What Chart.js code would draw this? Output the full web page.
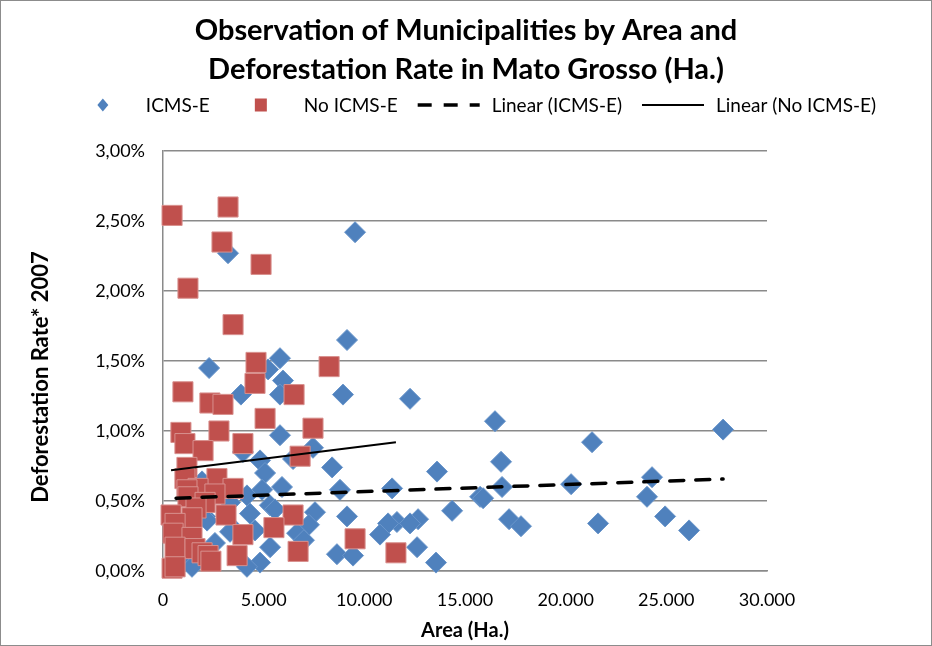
<!DOCTYPE html>
<html>
<head>
<meta charset="utf-8">
<script src="https://cdn.jsdelivr.net/npm/chart.js@4.4.1/dist/chart.umd.min.js"></script>
<style>
  html, body { margin: 0; padding: 0; background: #ffffff; }
  #wrap { width: 932px; height: 646px; }
</style>
</head>
<body>
<div id="wrap"><canvas id="chart" width="932" height="646"></canvas></div>
<script>
// Municipalities with ICMS-E: area (ha) and 2007 deforestation rate (%)
const icmsArea = [9540, 3230, 9140, 5810, 2290, 5220, 5960, 3870, 5810, 8940,
  12270, 16490, 27820, 5810, 21310, 7450, 3970, 4820, 6460, 16790,
  8400, 13610, 5070, 24290, 20270, 5910, 16840, 11380, 8790, 4920,
  4170, 15750, 24040, 15900, 3330, 5310, 5560, 14360, 7550, 4320,
  2090, 9140, 24940, 17190, 12670, 2190, 11620, 11180, 12270, 21610,
  7250, 17780, 3580, 4570, 26130, 3330, 6660, 10780, 7000, 2580,
  12620, 5320, 1000, 650, 8640, 9440, 650, 1340, 4820, 13560,
  4170, 1440, 1940];
const icmsRate = [2.42, 2.27, 1.65, 1.52, 1.45, 1.44, 1.36, 1.26, 1.26, 1.26,
  1.23, 1.07, 1.01, 0.97, 0.92, 0.88, 0.85, 0.79, 0.80, 0.78,
  0.74, 0.71, 0.70, 0.67, 0.62, 0.60, 0.60, 0.59, 0.58, 0.58,
  0.54, 0.53, 0.53, 0.52, 0.49, 0.47, 0.44, 0.43, 0.42, 0.41,
  0.39, 0.39, 0.39, 0.37, 0.37, 0.36, 0.35, 0.34, 0.34, 0.34,
  0.33, 0.32, 0.29, 0.29, 0.29, 0.28, 0.27, 0.26, 0.22, 0.20,
  0.17, 0.17, 0.19, 0.15, 0.12, 0.11, 0.10, 0.06, 0.06, 0.06,
  0.03, 0.03, 0.64];

// Municipalities without ICMS-E
const noIcmsArea = [450, 3230, 2930, 4870, 1240, 3480, 4620, 8250, 4570, 990,
  6510, 2330, 2980, 5070, 7450, 2780, 890, 3970, 1090, 1990,
  6810, 1190, 2680, 1090, 1740, 3480, 1190, 2580, 1240, 2090,
  1640, 400, 3130, 6460, 1440, 600, 5510, 500, 3970, 1440,
  9540, 600, 1590, 6710, 11570, 1940, 2240, 3680, 2380, 450,
  600];
const noIcmsRate = [2.54, 2.60, 2.35, 2.19, 2.02, 1.76, 1.49, 1.46, 1.34, 1.28,
  1.26, 1.20, 1.19, 1.09, 1.02, 1.00, 0.99, 0.91, 0.91, 0.86,
  0.82, 0.74, 0.66, 0.66, 0.59, 0.59, 0.58, 0.55, 0.53, 0.49,
  0.45, 0.40, 0.40, 0.40, 0.38, 0.34, 0.31, 0.27, 0.26, 0.24,
  0.23, 0.17, 0.16, 0.14, 0.13, 0.13, 0.11, 0.11, 0.07, 0.02,
  0.03];

// Linear trend coefficients [intercept %, slope % per ha]
const trendIcms = [0.5167, 0.00000504];
const trendNoIcms = [0.7129, 0.00001783];

const seriesLabels = ['ICMS-E', 'No ICMS-E', 'Linear (ICMS-E)', 'Linear (No ICMS-E)'];
const titleLines = ['Observation of Municipalities by Area and', 'Deforestation Rate in Mato Grosso (Ha.)'];
const xTicks = [0, 5000, 10000, 15000, 20000, 25000, 30000];
const yTicks = [0, 0.5, 1, 1.5, 2, 2.5, 3];

const FONT = 'Lato, "Open Sans", "DejaVu Sans", sans-serif';
const BLUE = '#4F81BD';
const RED = '#C0504D';
const GRID = '#8a8a8a';

const toPoints = (xs, ys) => xs.map((x, i) => ({ x: x, y: ys[i] }));
const trendPoints = (xs, coef) => {
  const lo = Math.min(...xs), hi = Math.max(...xs);
  return [lo, hi].map(x => ({ x: x, y: coef[0] + coef[1] * x }));
};
const thousands = v => String(Math.round(v)).replace(/\B(?=(\d{3})+(?!\d))/g, '.');

// White page with a thin frame around the whole chart
const framePlugin = {
  id: 'frame',
  beforeDraw(chart) {
    const ctx = chart.ctx;
    ctx.save();
    ctx.fillStyle = '#ffffff';
    ctx.fillRect(0, 0, chart.width, chart.height);
    ctx.restore();
  },
  afterDraw(chart) {
    const ctx = chart.ctx;
    ctx.save();
    ctx.strokeStyle = '#8c8c8c';
    ctx.lineWidth = 1;
    ctx.strokeRect(0.5, 0.5, chart.width - 1, chart.height - 1);
    ctx.restore();
  }
};

// Single-row key under the title: markers and line samples
const keyPlugin = {
  id: 'seriesKey',
  afterDraw(chart) {
    const ctx = chart.ctx;
    const sets = chart.data.datasets;
    const boxW = 62, gap = 12, spacing = 20, y = 105;
    ctx.save();
    ctx.font = '19px ' + FONT;
    ctx.textBaseline = 'middle';
    const widths = sets.map(ds => boxW + gap + ctx.measureText(ds.label).width);
    const total = widths.reduce((a, b) => a + b, 0) + spacing * (sets.length - 1);
    let x = (chart.width - total) / 2 + 8;
    sets.forEach((ds, i) => {
      const cx = x + boxW / 2;
      ctx.save();
      if (ds.keyStyle === 'diamond') {
        ctx.fillStyle = ds.backgroundColor;
        ctx.beginPath();
        ctx.moveTo(cx, y - 6.5); ctx.lineTo(cx + 5.5, y);
        ctx.lineTo(cx, y + 6.5); ctx.lineTo(cx - 5.5, y);
        ctx.closePath(); ctx.fill();
      } else if (ds.keyStyle === 'square') {
        ctx.fillStyle = ds.backgroundColor;
        ctx.fillRect(cx - 6, y - 6.5, 12, 13);
      } else {
        ctx.strokeStyle = ds.borderColor;
        ctx.lineWidth = ds.borderWidth;
        ctx.lineCap = 'butt';
        ctx.setLineDash(ds.borderDash || []);
        ctx.beginPath();
        ctx.moveTo(x, y); ctx.lineTo(x + boxW, y);
        ctx.stroke();
      }
      ctx.restore();
      ctx.fillStyle = '#000000';
      ctx.fillText(ds.label, x + boxW + gap, y + 1);
      x += widths[i] + spacing;
    });
    ctx.restore();
  }
};

new Chart(document.getElementById('chart'), {
  type: 'scatter',
  data: {
    datasets: [
      {
        label: seriesLabels[0], keyStyle: 'diamond',
        data: toPoints(icmsArea, icmsRate),
        pointStyle: 'rectRot', pointRadius: 10.5, pointHoverRadius: 10.5,
        backgroundColor: BLUE, borderColor: '#6a96cb', borderWidth: 1,
        order: 3, clip: false
      },
      {
        label: seriesLabels[1], keyStyle: 'square',
        data: toPoints(noIcmsArea, noIcmsRate),
        pointStyle: 'rect', pointRadius: 14.2, pointHoverRadius: 14.2,
        backgroundColor: RED, borderColor: '#d8908e', borderWidth: 1,
        order: 2, clip: false
      },
      {
        label: seriesLabels[2], keyStyle: 'line',
        data: trendPoints(icmsArea, trendIcms),
        showLine: true, pointRadius: 0, pointHoverRadius: 0,
        borderColor: '#000000', borderWidth: 3.5, borderDash: [14, 12],
        borderCapStyle: 'round', order: 1
      },
      {
        label: seriesLabels[3], keyStyle: 'line',
        data: trendPoints(noIcmsArea, trendNoIcms),
        showLine: true, pointRadius: 0, pointHoverRadius: 0,
        borderColor: '#000000', borderWidth: 2, order: 0
      }
    ]
  },
  options: {
    responsive: false,
    animation: false,
    events: [],
    layout: { padding: 0 },
    plugins: {
      legend: { display: false },
      tooltip: { enabled: false },
      title: {
        display: true,
        text: titleLines,
        color: '#000000',
        font: { family: FONT, size: 29, weight: 'bold', lineHeight: 1.345 },
        padding: { top: 11, bottom: 62 }
      }
    },
    scales: {
      x: {
        type: 'linear', min: xTicks[0], max: xTicks[xTicks.length - 1],
        afterBuildTicks: s => { s.ticks = xTicks.map(v => ({ value: v })); },
        afterFit: s => { s.height = 75; },
        ticks: {
          callback: v => thousands(v),
          color: '#000000', font: { family: FONT, size: 18 }, padding: 18,
          maxRotation: 0
        },
        grid: { display: false, drawTicks: false },
        border: { display: true, color: GRID, width: 1.5 },
        title: {
          display: true, text: 'Area (Ha.)', color: '#000000',
          font: { family: FONT, size: 20, weight: 'bold' },
          padding: { top: 8, bottom: 3 }
        }
      },
      y: {
        type: 'linear', min: yTicks[0], max: yTicks[yTicks.length - 1],
        afterBuildTicks: s => { s.ticks = yTicks.map(v => ({ value: v })); },
        afterFit: s => { s.width = 163; },
        ticks: {
          callback: v => v.toFixed(2).replace('.', ',') + '%',
          color: '#000000', font: { family: FONT, size: 18 }, padding: 18
        },
        grid: { color: GRID, lineWidth: 1.5, drawTicks: false },
        border: { display: true, color: GRID, width: 1.5 },
        title: {
          display: true, text: 'Deforestation Rate* 2007      ', color: '#000000',
          font: { family: FONT, size: 22, weight: 'bold' },
          padding: { top: 28, bottom: 0 }
        }
      },
      margin: {
        type: 'linear', position: 'right', display: true,
        afterFit: s => { s.width = 165; },
        ticks: { display: false },
        grid: { display: false, drawTicks: false },
        border: { display: false }
      }
    }
  },
  plugins: [framePlugin, keyPlugin]
});
</script>
</body>
</html>
